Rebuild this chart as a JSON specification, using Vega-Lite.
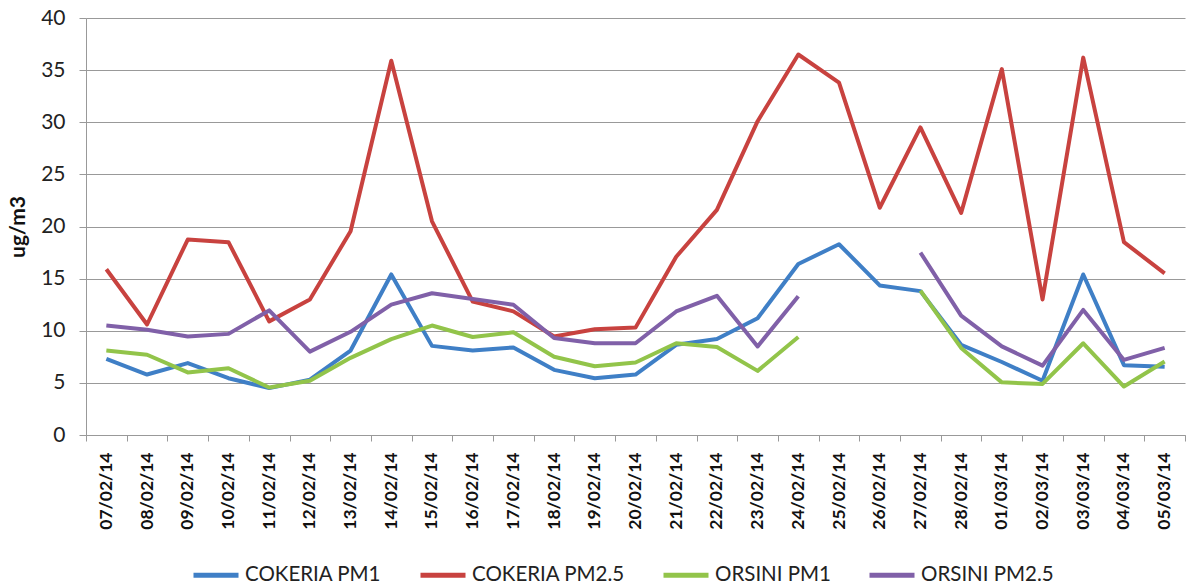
{
  "$schema": "https://vega.github.io/schema/vega-lite/v6.json",
  "autosize": "none",
  "width": 1099,
  "height": 417,
  "padding": {"left": 86, "top": 18, "right": 2, "bottom": 150},
  "background": "white",
  "config": {
    "view": {"stroke": null},
    "font": "Lato"
  },
  "data": {"values": [
    {"d":"07/02/14","s":"COKERIA PM1","v":7.3},
    {"d":"08/02/14","s":"COKERIA PM1","v":5.8},
    {"d":"09/02/14","s":"COKERIA PM1","v":6.9},
    {"d":"10/02/14","s":"COKERIA PM1","v":5.45},
    {"d":"11/02/14","s":"COKERIA PM1","v":4.5},
    {"d":"12/02/14","s":"COKERIA PM1","v":5.3},
    {"d":"13/02/14","s":"COKERIA PM1","v":8.1},
    {"d":"14/02/14","s":"COKERIA PM1","v":15.4},
    {"d":"15/02/14","s":"COKERIA PM1","v":8.55},
    {"d":"16/02/14","s":"COKERIA PM1","v":8.1},
    {"d":"17/02/14","s":"COKERIA PM1","v":8.4},
    {"d":"18/02/14","s":"COKERIA PM1","v":6.25},
    {"d":"19/02/14","s":"COKERIA PM1","v":5.45},
    {"d":"20/02/14","s":"COKERIA PM1","v":5.8},
    {"d":"21/02/14","s":"COKERIA PM1","v":8.65},
    {"d":"22/02/14","s":"COKERIA PM1","v":9.2},
    {"d":"23/02/14","s":"COKERIA PM1","v":11.2},
    {"d":"24/02/14","s":"COKERIA PM1","v":16.4},
    {"d":"25/02/14","s":"COKERIA PM1","v":18.3},
    {"d":"26/02/14","s":"COKERIA PM1","v":14.35},
    {"d":"27/02/14","s":"COKERIA PM1","v":13.8},
    {"d":"28/02/14","s":"COKERIA PM1","v":8.65},
    {"d":"01/03/14","s":"COKERIA PM1","v":7.0},
    {"d":"02/03/14","s":"COKERIA PM1","v":5.2},
    {"d":"03/03/14","s":"COKERIA PM1","v":15.4},
    {"d":"04/03/14","s":"COKERIA PM1","v":6.7},
    {"d":"05/03/14","s":"COKERIA PM1","v":6.55},

    {"d":"07/02/14","s":"COKERIA PM2.5","v":15.9},
    {"d":"08/02/14","s":"COKERIA PM2.5","v":10.6},
    {"d":"09/02/14","s":"COKERIA PM2.5","v":18.75},
    {"d":"10/02/14","s":"COKERIA PM2.5","v":18.5},
    {"d":"11/02/14","s":"COKERIA PM2.5","v":10.9},
    {"d":"12/02/14","s":"COKERIA PM2.5","v":13.0},
    {"d":"13/02/14","s":"COKERIA PM2.5","v":19.55},
    {"d":"14/02/14","s":"COKERIA PM2.5","v":35.9},
    {"d":"15/02/14","s":"COKERIA PM2.5","v":20.5},
    {"d":"16/02/14","s":"COKERIA PM2.5","v":12.8},
    {"d":"17/02/14","s":"COKERIA PM2.5","v":11.86},
    {"d":"18/02/14","s":"COKERIA PM2.5","v":9.45},
    {"d":"19/02/14","s":"COKERIA PM2.5","v":10.15},
    {"d":"20/02/14","s":"COKERIA PM2.5","v":10.3},
    {"d":"21/02/14","s":"COKERIA PM2.5","v":17.1},
    {"d":"22/02/14","s":"COKERIA PM2.5","v":21.6},
    {"d":"23/02/14","s":"COKERIA PM2.5","v":30.1},
    {"d":"24/02/14","s":"COKERIA PM2.5","v":36.5},
    {"d":"25/02/14","s":"COKERIA PM2.5","v":33.8},
    {"d":"26/02/14","s":"COKERIA PM2.5","v":21.8},
    {"d":"27/02/14","s":"COKERIA PM2.5","v":29.5},
    {"d":"28/02/14","s":"COKERIA PM2.5","v":21.3},
    {"d":"01/03/14","s":"COKERIA PM2.5","v":35.1},
    {"d":"02/03/14","s":"COKERIA PM2.5","v":13.0},
    {"d":"03/03/14","s":"COKERIA PM2.5","v":36.2},
    {"d":"04/03/14","s":"COKERIA PM2.5","v":18.5},
    {"d":"05/03/14","s":"COKERIA PM2.5","v":15.5},

    {"d":"07/02/14","s":"ORSINI PM1","v":8.1},
    {"d":"08/02/14","s":"ORSINI PM1","v":7.7},
    {"d":"09/02/14","s":"ORSINI PM1","v":6.0},
    {"d":"10/02/14","s":"ORSINI PM1","v":6.4},
    {"d":"11/02/14","s":"ORSINI PM1","v":4.55},
    {"d":"12/02/14","s":"ORSINI PM1","v":5.2},
    {"d":"13/02/14","s":"ORSINI PM1","v":7.4},
    {"d":"14/02/14","s":"ORSINI PM1","v":9.2},
    {"d":"15/02/14","s":"ORSINI PM1","v":10.5},
    {"d":"16/02/14","s":"ORSINI PM1","v":9.4},
    {"d":"17/02/14","s":"ORSINI PM1","v":9.85},
    {"d":"18/02/14","s":"ORSINI PM1","v":7.5},
    {"d":"19/02/14","s":"ORSINI PM1","v":6.6},
    {"d":"20/02/14","s":"ORSINI PM1","v":6.95},
    {"d":"21/02/14","s":"ORSINI PM1","v":8.8},
    {"d":"22/02/14","s":"ORSINI PM1","v":8.45},
    {"d":"23/02/14","s":"ORSINI PM1","v":6.15},
    {"d":"24/02/14","s":"ORSINI PM1","v":9.4},
    {"d":"25/02/14","s":"ORSINI PM1","v":null},
    {"d":"26/02/14","s":"ORSINI PM1","v":null},
    {"d":"27/02/14","s":"ORSINI PM1","v":13.85},
    {"d":"28/02/14","s":"ORSINI PM1","v":8.35},
    {"d":"01/03/14","s":"ORSINI PM1","v":5.05},
    {"d":"02/03/14","s":"ORSINI PM1","v":4.9},
    {"d":"03/03/14","s":"ORSINI PM1","v":8.8},
    {"d":"04/03/14","s":"ORSINI PM1","v":4.65},
    {"d":"05/03/14","s":"ORSINI PM1","v":7.05},

    {"d":"07/02/14","s":"ORSINI PM2.5","v":10.5},
    {"d":"08/02/14","s":"ORSINI PM2.5","v":10.1},
    {"d":"09/02/14","s":"ORSINI PM2.5","v":9.45},
    {"d":"10/02/14","s":"ORSINI PM2.5","v":9.7},
    {"d":"11/02/14","s":"ORSINI PM2.5","v":11.95},
    {"d":"12/02/14","s":"ORSINI PM2.5","v":8.0},
    {"d":"13/02/14","s":"ORSINI PM2.5","v":9.9},
    {"d":"14/02/14","s":"ORSINI PM2.5","v":12.5},
    {"d":"15/02/14","s":"ORSINI PM2.5","v":13.6},
    {"d":"16/02/14","s":"ORSINI PM2.5","v":13.05},
    {"d":"17/02/14","s":"ORSINI PM2.5","v":12.5},
    {"d":"18/02/14","s":"ORSINI PM2.5","v":9.3},
    {"d":"19/02/14","s":"ORSINI PM2.5","v":8.8},
    {"d":"20/02/14","s":"ORSINI PM2.5","v":8.8},
    {"d":"21/02/14","s":"ORSINI PM2.5","v":11.85},
    {"d":"22/02/14","s":"ORSINI PM2.5","v":13.35},
    {"d":"23/02/14","s":"ORSINI PM2.5","v":8.5},
    {"d":"24/02/14","s":"ORSINI PM2.5","v":13.3},
    {"d":"25/02/14","s":"ORSINI PM2.5","v":null},
    {"d":"26/02/14","s":"ORSINI PM2.5","v":null},
    {"d":"27/02/14","s":"ORSINI PM2.5","v":17.5},
    {"d":"28/02/14","s":"ORSINI PM2.5","v":11.45},
    {"d":"01/03/14","s":"ORSINI PM2.5","v":8.5},
    {"d":"02/03/14","s":"ORSINI PM2.5","v":6.65},
    {"d":"03/03/14","s":"ORSINI PM2.5","v":12.0},
    {"d":"04/03/14","s":"ORSINI PM2.5","v":7.2},
    {"d":"05/03/14","s":"ORSINI PM2.5","v":8.35}
  ]},
  "mark": {"type": "line", "strokeWidth": 4, "invalid": "break-paths-show-domains", "strokeJoin": "round"},
  "encoding": {
    "x": {
      "field": "d", "type": "nominal", "sort": null,
      "bandPosition": 0.5,
      "scale": {"type": "band", "paddingInner": 0, "paddingOuter": 0},
      "axis": {
        "title": null,
        "labelAngle": -90,
        "labelFont": "Lato",
        "labelFontSize": 17.5,
        "labelFontWeight": "bold",
        "labelColor": "#111",
        "labelPadding": 11,
        "tickBand": "extent",
        "tickSize": 6,
        "tickColor": "#999",
        "domainColor": "#999",
        "grid": false
      }
    },
    "y": {
      "field": "v", "type": "quantitative",
      "scale": {"domain": [0, 40], "nice": false},
      "axis": {
        "title": "ug/m3",
        "titleFont": "Lato",
        "titleFontSize": 21,
        "titleFontWeight": "bold",
        "titleColor": "#111",
        "titlePadding": 12,
        "values": [0, 5, 10, 15, 20, 25, 30, 35, 40],
        "labelFont": "Lato",
        "labelFontSize": 21,
        "labelColor": "#222",
        "labelPadding": 14,
        "tickSize": 7,
        "tickColor": "#999",
        "domainColor": "#999",
        "grid": true,
        "gridColor": "#999",
        "gridWidth": 1
      }
    },
    "color": {
      "field": "s", "type": "nominal",
      "scale": {
        "domain": ["COKERIA PM1", "COKERIA PM2.5", "ORSINI PM1", "ORSINI PM2.5"],
        "range": ["#3f7fc6", "#c8423f", "#92c44a", "#8060a8"]
      },
      "legend": {
        "title": null,
        "orient": "none",
        "direction": "horizontal",
        "legendX": 105,
        "legendY": 532,
        "symbolType": "stroke",
        "symbolSize": 2025,
        "symbolStrokeWidth": 5,
        "labelFont": "Lato",
        "labelFontSize": 20.5,
        "labelColor": "#222",
        "labelOffset": 4,
        "columnPadding": 28
      }
    }
  }
}
